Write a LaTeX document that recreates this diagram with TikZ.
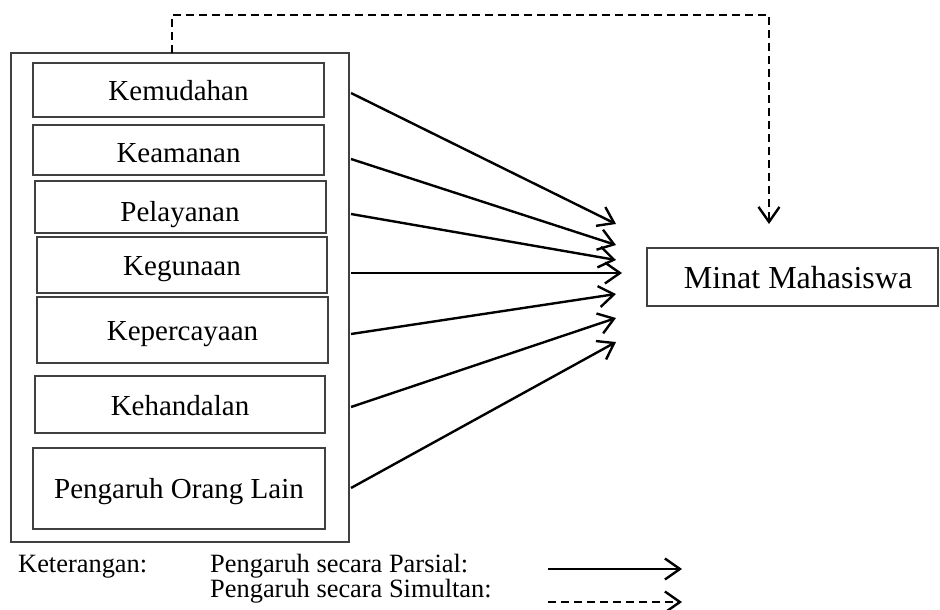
\documentclass[tikz,border=0pt]{standalone}
\usepackage{fontspec}
\setmainfont{Liberation Serif}
\usetikzlibrary{arrows.meta}
\begin{document}
\begin{tikzpicture}[x=1pt,y=-1pt,
  box/.style={draw=black!75, line width=1.3pt, inner sep=0pt, outer sep=0pt},
  lbl/.style={inner sep=0pt, font=\fontsize{29}{34}\selectfont, anchor=base},
  leg/.style={inner sep=0pt, font=\fontsize{26.4}{30}\selectfont, anchor=base west},
  arr/.style={line width=2.4pt, -{Straight Barb[length=15pt,width=21pt]}},
  dsh/.style={line width=2.4pt, dash pattern=on 8pt off 5pt, -{Straight Barb[length=15pt,width=21pt]}}]
\useasboundingbox (0,0) rectangle (940,610);
% outer group box
\node[box, minimum width=338pt, minimum height=489pt] (outer) at (180,297.5) {};
% inner boxes
\node[box, minimum width=291pt, minimum height=54pt] (kem) at (178.5,90) {};
\node[box, minimum width=291pt, minimum height=50pt] (kea) at (178.5,150) {};
\node[box, minimum width=291pt, minimum height=52pt] (pel) at (180.5,207) {};
\node[box, minimum width=290pt, minimum height=56pt] (keg) at (182,265) {};
\node[box, minimum width=291pt, minimum height=66pt] (kep) at (182.5,330) {};
\node[box, minimum width=290pt, minimum height=57pt] (keh) at (180,404.5) {};
\node[box, minimum width=292pt, minimum height=81pt] (pen) at (179,488.5) {};
\node[lbl] (tkem) at (178.5,100) {Kemudahan};
\node[lbl] (tkea) at (178.5,162) {Keamanan};
\node[lbl] (tpel) at (180,221) {Pelayanan};
\node[lbl] (tkeg) at (182,275) {Kegunaan};
\node[lbl] (tkep) at (182.5,340) {Kepercayaan};
\node[lbl] (tkeh) at (180,415) {Kehandalan};
\node[lbl] (tpen) at (179,498) {Pengaruh Orang Lain};
% target
\node[box, minimum width=291pt, minimum height=58pt] (minat) at (792.5,277) {};
\node[inner sep=0pt, font=\fontsize{32}{38}\selectfont, anchor=base] (tminat) at (798,288) {Minat Mahasiswa};
% partial arrows
\coordinate (s1) at (351,93);  \coordinate (t1) at (616,224);
\coordinate (s2) at (351,159); \coordinate (t2) at (616,245);
\coordinate (s3) at (351,214); \coordinate (t3) at (616,260);
\coordinate (s4) at (351,273); \coordinate (t4) at (622,273);
\coordinate (s5) at (351,334); \coordinate (t5) at (616,294);
\coordinate (s6) at (351,407); \coordinate (t6) at (616,318);
\coordinate (s7) at (351,488); \coordinate (t7) at (616,342);
\foreach \i in {1,...,7} {\draw[arr] (s\i) -- (t\i);}
% simultaneous arrow
\coordinate (d0) at (172,53);
\coordinate (dc) at (172,15);
\coordinate (dt) at (769,224);
\draw[dsh] (d0) -- (dc) -| (dt);
% legend
\node[leg] (ket) at (18,572) {Keterangan:};
\node[leg] (lp) at (210,572) {Pengaruh secara Parsial:};
\node[leg] (ls) at (210,597) {Pengaruh secara Simultan:};
\coordinate (la0) at (548,569); \coordinate (la1) at (682,569);
\coordinate (lb0) at (548,602); \coordinate (lb1) at (682,602);
\draw[arr] (la0) -- (la1);
\draw[dsh] (lb0) -- (lb1);
\end{tikzpicture}
\end{document}
